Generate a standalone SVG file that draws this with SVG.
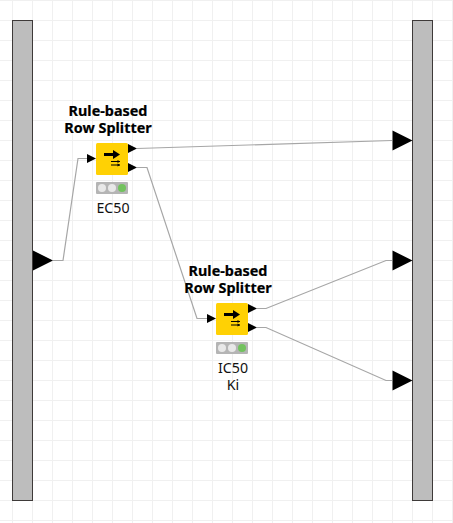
<svg xmlns="http://www.w3.org/2000/svg" width="453" height="523" viewBox="0 0 453 523">
<style>
.grid{stroke:#f0f0f0;stroke-width:1;fill:none}
.bar{fill:#bdbdbd;stroke:#3e3a39;stroke-width:1}
.conn{stroke:#a6a6a6;stroke-width:1.2;fill:none}
.port{fill:#000}
.body{fill:#ffd104}
.tl{fill:#b5b5b5}
.off{fill:#e8e8e8}
.on{fill:#72c25e}
text{font-family:"Noto Sans","DejaVu Sans",sans-serif;font-size:14.2px;fill:#111;text-anchor:middle}
.title{font-weight:700;font-size:14.4px;fill:#000;stroke:#000;stroke-width:.2}
</style>
<defs>
<g id="icon">
<rect class="body" width="32" height="32" rx="1.5"/>
<path d="M8 11.500H18" stroke="#000" stroke-width="3" fill="none"/>
<path d="M17 7L24 11.500L17 16Z" fill="#000"/>
<path d="M15 18.500H24M15 22H24" stroke="#000" stroke-width="1" fill="none"/>
<path d="M21.500 17L24 18.500L21.500 20ZM21.500 20.500L24 22L21.500 23.500Z" fill="#000"/>
</g>
<g id="lights">
<rect class="tl" width="32" height="12" rx="1"/>
<circle class="off" cx="6" cy="6" r="4"/>
<circle class="off" cx="16" cy="6" r="4"/>
<circle class="on" cx="26" cy="6" r="4"/>
</g>
<path id="p" class="port" d="M0 -4.500L9 0L0 4.500Z"/>
<path id="P" class="port" d="M0 -10L20 0L0 10Z"/>
</defs>
<rect width="453" height="523" fill="#fff"/>
<path class="grid" d="M12.500 0V523M32.500 0V523M52.500 0V523M72.500 0V523M92.500 0V523M112.500 0V523M132.500 0V523M152.500 0V523M172.500 0V523M192.500 0V523M212.500 0V523M232.500 0V523M252.500 0V523M272.500 0V523M292.500 0V523M312.500 0V523M332.500 0V523M352.500 0V523M372.500 0V523M392.500 0V523M412.500 0V523M432.500 0V523M452.500 0V523"/>
<path class="grid" d="M0 .5H453M0 20.500H453M0 40.500H453M0 60.500H453M0 80.500H453M0 100.500H453M0 120.500H453M0 140.500H453M0 160.500H453M0 180.500H453M0 200.500H453M0 220.500H453M0 240.500H453M0 260.500H453M0 280.500H453M0 300.500H453M0 320.500H453M0 340.500H453M0 360.500H453M0 380.500H453M0 400.500H453M0 420.500H453M0 440.500H453M0 460.500H453M0 480.500H453M0 500.500H453M0 520.500H453"/>
<g id="connectors">
<path class="conn" d="M53 260.500H63L78 158.500H87"/>
<path class="conn" d="M137 148.500L392 140.500"/>
<path class="conn" d="M137 167.500H147L197 318.500H207"/>
<path class="conn" d="M257 308.500H266L386 260.500H392"/>
<path class="conn" d="M257 327.500H266L386 380.500H392"/>
</g>
<g id="input-bar">
<rect class="bar" x="12.500" y="20.500" width="20" height="480"/>
<use href="#P" x="33" y="260.500"/>
</g>
<g id="output-bar">
<rect class="bar" x="412.500" y="20.500" width="20" height="480"/>
<use href="#P" x="392.500" y="140.500"/>
<use href="#P" x="392.500" y="260.500"/>
<use href="#P" x="392.500" y="380.500"/>
</g>
<g id="splitter-ec50">
<text class="title"><tspan x="108" y="115.500">Rule-based</tspan><tspan x="108" y="132.500">Row Splitter</tspan></text>
<use href="#icon" x="96" y="143"/>
<use href="#p" x="87" y="158.500"/>
<use href="#p" x="128" y="148.500"/>
<use href="#p" x="128" y="167.500"/>
<use href="#lights" x="96" y="182"/>
<text x="113" y="213">EC50</text>
</g>
<g id="splitter-ic50">
<text class="title"><tspan x="228" y="275.500">Rule-based</tspan><tspan x="228" y="292.500">Row Splitter</tspan></text>
<use href="#icon" x="216" y="303"/>
<use href="#p" x="207" y="318.500"/>
<use href="#p" x="248" y="308.500"/>
<use href="#p" x="248" y="327.500"/>
<use href="#lights" x="216" y="342"/>
<text><tspan x="233" y="373">IC50</tspan><tspan x="233" y="390">Ki</tspan></text>
</g>
</svg>
